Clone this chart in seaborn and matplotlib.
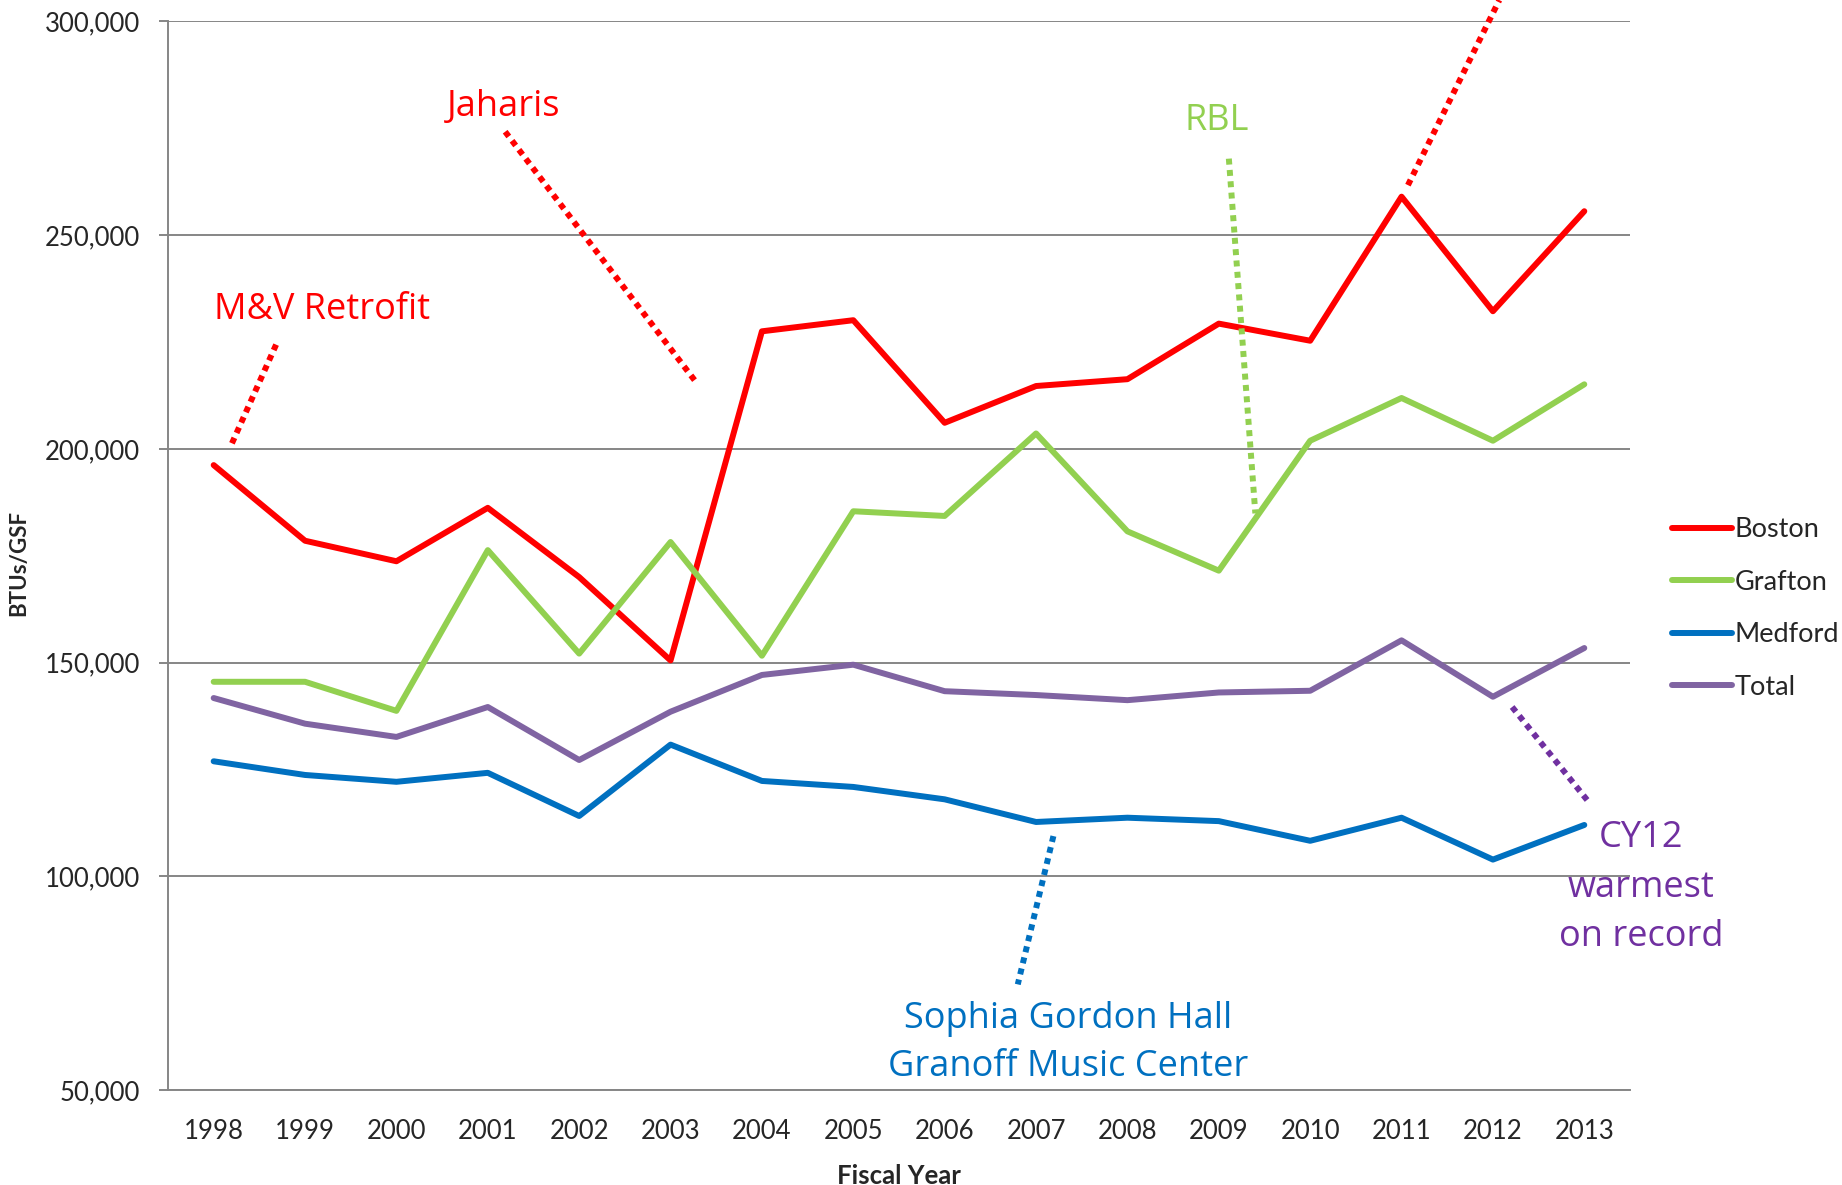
import seaborn as sns
import matplotlib.pyplot as plt
import matplotlib.ticker as mticker
import pandas as pd

years = list(range(1998, 2014))
boston = [196200, 178500, 173700, 186200, 170000, 150500, 227500, 230100,
          206100, 214700, 216300, 229300, 225300, 259000, 232200, 255600]
grafton = [145500, 145500, 138700, 176300, 152100, 178200, 151600, 185400,
           184300, 203600, 180700, 171500, 201900, 211900, 201900, 215100]
medford = [126900, 123700, 122100, 124200, 114100, 130800, 122300, 120900,
           118000, 112700, 113700, 112900, 108300, 113700, 103900, 112000]
total = [141700, 135700, 132600, 139600, 127200, 138500, 147100, 149500,
         143300, 142400, 141200, 143000, 143400, 155200, 142000, 153400]
sites = ["Boston", "Grafton", "Medford", "Total"]
colors = {"Boston": "#FF0000", "Grafton": "#92D050", "Medford": "#0070C0", "Total": "#8064A2"}

df = pd.DataFrame({"Boston": boston, "Grafton": grafton, "Medford": medford, "Total": total},
                  index=years)
df.index.name = "year"
long = df.reset_index().melt(id_vars="year", var_name="site", value_name="btu")

sns.set_style("white")
plt.rcParams['font.family'] = ['Lato', 'DejaVu Sans']

fig = plt.figure(figsize=(18.42, 11.85), dpi=100)
ax = fig.add_axes([0.0912, 0.0802, 0.7937, 0.9017])

sns.lineplot(data=long, x="year", y="btu", hue="site", hue_order=sites, palette=colors,
             linewidth=4.3, solid_capstyle="round", solid_joinstyle="round", ax=ax)

grid = "#868686"
ax.set_xlim(1997.5, 2013.5)
ax.set_ylim(50000, 300000)
ax.set_yticks(range(50000, 300001, 50000))
ax.yaxis.set_major_formatter(mticker.StrMethodFormatter("{x:,.0f}"))
ax.set_xticks(years)
ax.set_xticks([y - 0.5 for y in years] + [2013.5], minor=True)
ax.tick_params(axis="x", which="major", length=0, pad=21, labelsize=18.5)
ax.tick_params(axis="x", which="minor", length=7.2, width=1.4, color=grid, direction="out")
ax.tick_params(axis="y", length=6.5, width=1.4, color=grid, pad=13.5, labelsize=18.5,
               direction="out", left=True)
ax.yaxis.grid(True, color=grid, linewidth=1.4)
ax.xaxis.grid(False)
ax.set_axisbelow(True)
for s in ["top", "right"]:
    ax.spines[s].set_visible(False)
for s in ["left", "bottom"]:
    ax.spines[s].set_color(grid)
    ax.spines[s].set_linewidth(1.4)
ax.set_xlabel("")
ax.set_ylabel("")

fig.text(19 / 1842, 0.5249, "BTUs/GSF", rotation=90, ha="center", va="center",
         fontsize=16, fontweight="bold")
fig.text(0.4879, 0.0076, "Fiscal Year", ha="center", va="center",
         fontsize=18.5, fontweight="bold")

leg = ax.legend(loc="upper left", bbox_to_anchor=(1672 / 1842, 1 - 517 / 1185),
                bbox_transform=fig.transFigure, frameon=False, fontsize=19.5,
                handlelength=2.2, handletextpad=0.1, labelspacing=1.02,
                borderpad=0, borderaxespad=0)
for h in leg.get_lines():
    h.set_linewidth(4.3)
    h.set_solid_capstyle("round")

# annotations
afont = dict(family=["Open Sans", "DejaVu Sans"], fontsize=26)
dot = (0, (1, 0.9))

ax.text(1999.19, 232600, "M&V Retrofit", color="#FF0000", ha="center", va="center", **afont)
ax.plot([1998.20, 1998.69], [201300, 224700], color="#FF0000", lw=4.3, ls=dot)

ax.text(2001.17, 280000, "Jaharis", color="#FF0000", ha="center", va="center", **afont)
ax.plot([2001.19, 2003.29], [274200, 215300], color="#FF0000", lw=4.3, ls=dot)

ax.text(2008.98, 276700, "RBL", color="#92D050", ha="center", va="center", **afont)
ax.plot([2009.11, 2009.40], [267900, 184900], color="#92D050", lw=4.3, ls=dot)

ax.plot([2011.07, 2012.07], [261700, 305000], color="#FF0000", lw=4.3, ls=dot, clip_on=False)

ax.text(2007.35, 60900, "Sophia Gordon Hall\nGranoff Music Center", color="#0070C0",
        ha="center", va="center", linespacing=1.45, **afont)
ax.plot([2007.19, 2006.80], [109400, 74700], color="#0070C0", lw=4.3, ls=dot)

ax.text(2013.62, 97300, "CY12\nwarmest\non record", color="#7030A0",
        ha="center", va="center", linespacing=1.5, **afont)
ax.plot([2012.21, 2013.04], [139600, 117600], color="#7030A0", lw=4.3, ls=dot)

fig.savefig("out.png", dpi=100)
